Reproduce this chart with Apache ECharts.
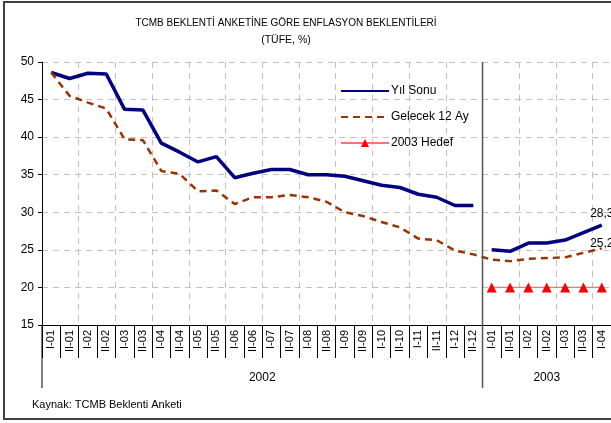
<!DOCTYPE html>
<html>
<head>
<meta charset="utf-8">
<script src="https://cdn.jsdelivr.net/npm/echarts@6/dist/echarts.min.js"></script>
<style>
  html, body { margin: 0; padding: 0; background: #fff; }
</style>
</head>
<body>
<div id="main" style="width: 611px;height:423px;"></div>

<script type="text/javascript">
// kategoriler (anket donemleri)
var donem2002 = ['I-01','II-01','I-02','II-02','I-03','II-03','I-04','II-04','I-05','II-05','I-06','II-06',
                 'I-07','II-07','I-08','II-08','I-09','II-09','I-10','II-10','I-11','II-11','I-12','II-12'];
var donem2003 = ['I-01','II-01','I-02','II-02','I-03','II-03','I-04'];
var yillar = ['2002', '2003'];

// seriler
var yilSonu2002 = [48.6, 47.8, 48.5, 48.4, 43.7, 43.6, 39.2, 38.0, 36.7, 37.4, 34.6, 35.2,
                   35.7, 35.7, 35.0, 35.0, 34.8, 34.2, 33.6, 33.3, 32.4, 32.0, 30.9, 30.9];
var yilSonu2003 = [25.0, 24.8, 25.9, 25.9, 26.3, 27.3, 28.3];
var gelecek12Ay = [48.6, 45.5, 44.6, 43.8, 39.7, 39.6, 35.5, 35.1, 32.8, 32.9, 31.1, 32.0,
                   32.0, 32.3, 32.0, 31.4, 30.0, 29.5, 28.7, 28.0, 26.5, 26.3, 24.9, 24.4,
                   23.7, 23.5, 23.8, 23.9, 24.0, 24.6, 25.2];
var hedef2003 = [20, 20, 20, 20, 20, 20, 20];

var yTicks = [15, 20, 25, 30, 35, 40, 45, 50];

var arial = "'Liberation Sans', Arial, sans-serif";
var bos = 'rgba(0,0,0,0)';

var kategoriler = donem2002.concat(donem2003);
var n1 = donem2002.length, n2 = donem2003.length;

function bosluk(k) { var a = []; for (var i = 0; i < k; i++) a.push('-'); return a; }
function virgul(v) { return String(v.toFixed(1)).replace('.', ','); }

// son noktaya etiket (sembol saydam, sadece etiket)
function sonEtiket(arr, offset) {
    var d = arr.slice();
    var last = d.length - 1;
    d[last] = { value: d[last], symbolSize: 2,
        label: { show: true, position: 'top', offset: offset, distance: 4, opacity: 1,
        formatter: function (p) { return virgul(p.value); },
        color: '#000', fontSize: 12, fontFamily: arial } };
    return d;
}

var myChart = echarts.init(document.getElementById('main'));

myChart.setOption({
    animation: false,
    title: {
        text: 'TCMB BEKLENTİ ANKETİNE GÖRE ENFLASYON BEKLENTİLERİ',
        subtext: '(TÜFE, %)',
        left: 281, top: 13, textAlign: 'center', itemGap: 7,
        textStyle: { fontSize: 10, fontWeight: 'normal', color: '#000', fontFamily: arial },
        subtextStyle: { fontSize: 10.5, color: '#000', fontFamily: arial }
    },
    legend: {
        orient: 'vertical', left: 335, top: 80, itemWidth: 48, itemHeight: 10, itemGap: 14,
        data: [
            { name: 'Yıl Sonu', itemStyle: { opacity: 0 } },
            { name: 'Gelecek 12 Ay', itemStyle: { opacity: 0 } },
            { name: '2003 Hedef' }
        ],
        textStyle: { fontSize: 12, color: '#000', fontFamily: arial, padding: [0, 0, 0, -3] }
    },
    grid: { left: 42, top: 62, width: 575, height: 263, containLabel: false },
    xAxis: {
        type: 'category', data: kategoriler, boundaryGap: true,
        axisLine: { lineStyle: { color: '#000', width: 1 } },
        axisTick: { show: true, interval: 0, length: 33, lineStyle: { color: '#000' } },
        axisLabel: { interval: 0, rotate: 90, fontSize: 11, color: '#000', fontFamily: arial, margin: 5 },
        splitLine: { show: true, interval: 1, lineStyle: { color: '#c0c0c0', type: [6, 5] } }
    },
    yAxis: {
        type: 'value', min: yTicks[0], max: yTicks[yTicks.length - 1], interval: 5,
        axisLine: { show: true, lineStyle: { color: '#000' } },
        axisTick: { show: true, length: 4, lineStyle: { color: '#000' } },
        axisLabel: { fontSize: 12, color: '#000', fontFamily: arial, margin: 8 },
        splitLine: { show: true, lineStyle: { color: '#c0c0c0', type: [6, 5] } }
    },
    series: [
        { name: 'Yıl Sonu', type: 'line', symbol: 'none', color: '#000080',
          lineStyle: { width: 3.5, color: '#000080' },
          data: yilSonu2002.concat(bosluk(n2)) },
        { name: 'Yıl Sonu', type: 'line', symbol: 'circle', symbolSize: 0, showSymbol: true,
          color: '#000080', itemStyle: { color: bos, borderWidth: 0 },
          lineStyle: { width: 3.5, color: '#000080' },
          data: bosluk(n1).concat(sonEtiket(yilSonu2003, [0, 0])) },
        { name: 'Gelecek 12 Ay', type: 'line', symbol: 'circle', symbolSize: 0, showSymbol: true,
          color: '#993300', itemStyle: { color: bos, borderWidth: 0 },
          lineStyle: { width: 2.5, color: '#993300', type: [7, 5] },
          data: sonEtiket(gelecek12Ay, [0, 6]) },
        { name: '2003 Hedef', type: 'line', symbol: 'triangle', symbolSize: 10, color: '#ff0000',
          itemStyle: { color: '#ff0000' },
          lineStyle: { width: 1.2, color: '#ff7070' },
          data: bosluk(n1).concat(hedef2003) }
    ]
});

// ayirici cizgi, yil etiketleri, cerceve
var x0 = myChart.convertToPixel({ xAxisIndex: 0 }, 0);
var xA = myChart.convertToPixel({ xAxisIndex: 0 }, n1 - 1);
var xB = myChart.convertToPixel({ xAxisIndex: 0 }, n1);
var xEnd = myChart.convertToPixel({ xAxisIndex: 0 }, n1 + n2 - 1);
var step = xB - xA;
var sep = (xA + xB) / 2;
var left = x0 - step / 2, right = xEnd + step / 2;
var yTop = myChart.convertToPixel({ yAxisIndex: 0 }, yTicks[yTicks.length - 1]);
var yBot = myChart.convertToPixel({ yAxisIndex: 0 }, yTicks[0]);

myChart.setOption({
    graphic: [
        { type: 'rect', shape: { x: 4, y: 2, width: 640, height: 417 },
          style: { fill: 'none', stroke: '#404040', lineWidth: 2 }, z: 100 },
        { type: 'line', shape: { x1: sep, y1: yTop, x2: sep, y2: yBot + 63 },
          style: { stroke: '#555', lineWidth: 1.5 }, z: 100 },
        { type: 'line', shape: { x1: left, y1: yBot, x2: left, y2: yBot + 63 },
          style: { stroke: '#000', lineWidth: 1 }, z: 100 },
        { type: 'text', x: (left + sep) / 2, y: yBot + 53,
          style: { text: yillar[0], fill: '#000', font: '12px ' + arial, textAlign: 'center', textVerticalAlign: 'middle' } },
        { type: 'text', x: (sep + right) / 2, y: yBot + 53,
          style: { text: yillar[1], fill: '#000', font: '12px ' + arial, textAlign: 'center', textVerticalAlign: 'middle' } },
        { type: 'text', x: 32, y: 405,
          style: { text: 'Kaynak: TCMB Beklenti Anketi', fill: '#000', font: '11px ' + arial, textAlign: 'left', textVerticalAlign: 'middle' } }
    ]
});
</script>
</body>
</html>
